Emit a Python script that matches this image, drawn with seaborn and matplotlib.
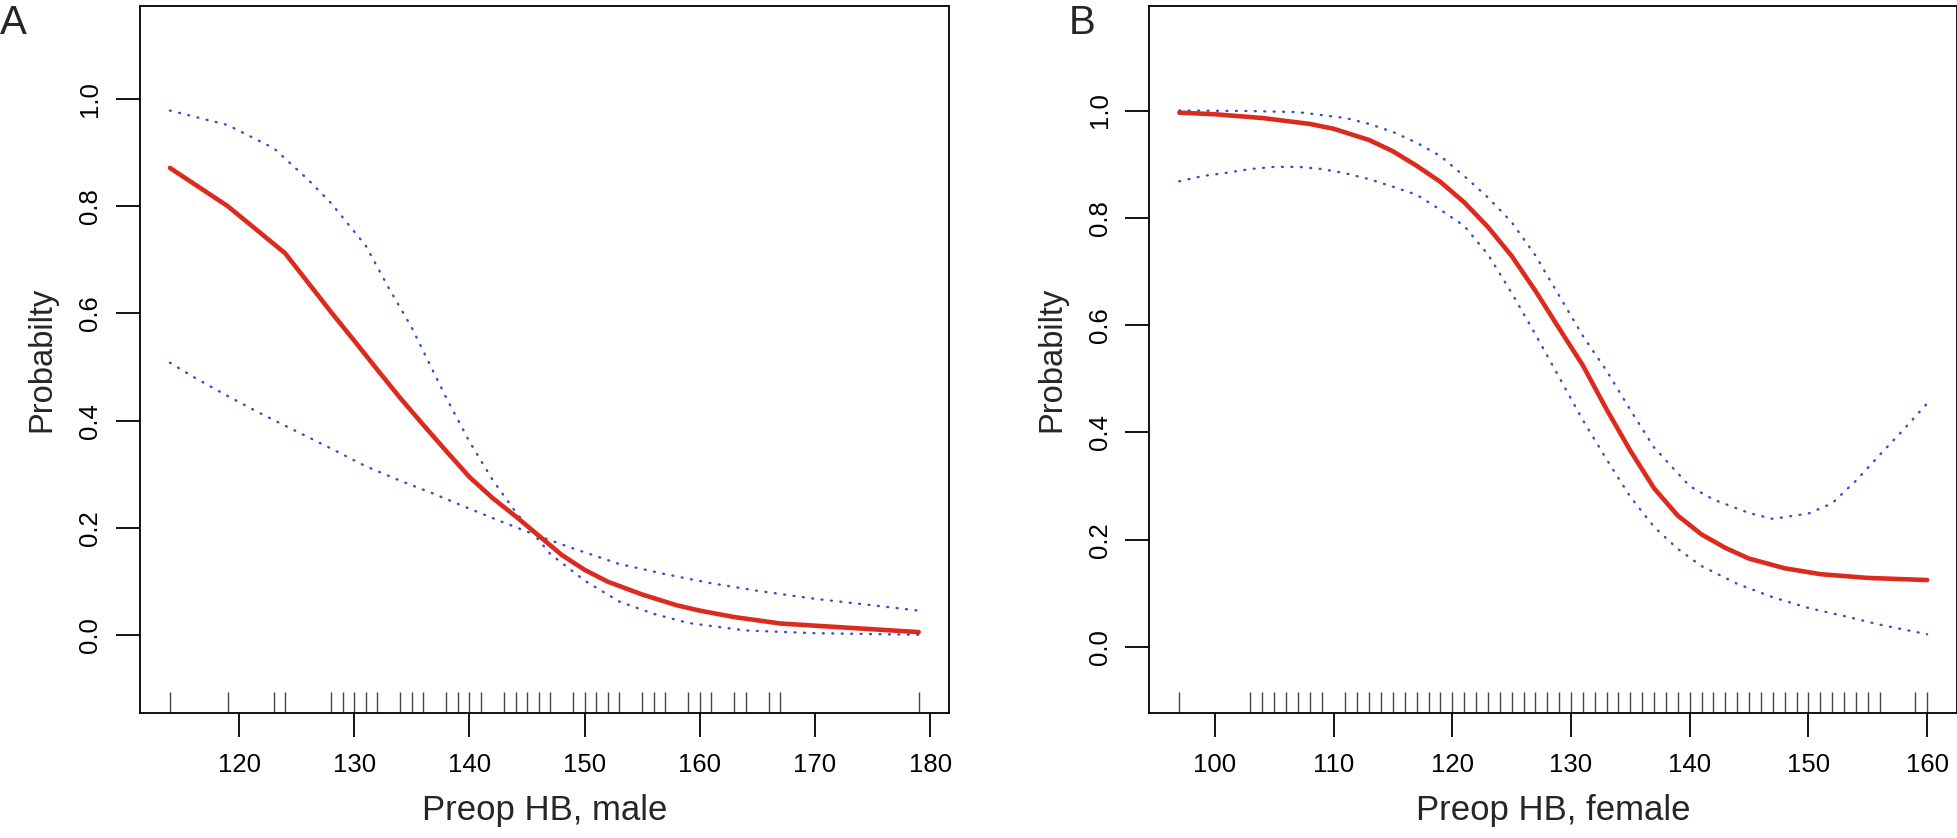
import matplotlib
matplotlib.use("Agg")
from matplotlib import pyplot as plt
import pandas as pd
import seaborn as sns

# panel A - male
male_rug = [114, 119, 123, 124, 128, 129, 130, 131, 132, 134, 135, 136, 138, 139, 140, 141,
            143, 144, 145, 146, 147, 149, 150, 151, 152, 153, 155, 156, 157, 159, 160, 161,
            163, 164, 166, 167, 179]
male_x = [114, 119, 124, 128, 130, 132, 134, 136, 138, 140, 142, 144, 146, 148, 150, 152,
          155, 158, 160, 163, 167, 179]
male_p = [0.871, 0.800, 0.712, 0.602, 0.549, 0.495, 0.442, 0.392, 0.343, 0.295, 0.256, 0.222,
          0.186, 0.150, 0.122, 0.100, 0.076, 0.056, 0.046, 0.034, 0.022, 0.006]
male_up_x = [114, 119, 123, 126, 128, 131, 133, 135, 138, 140, 142, 144, 147, 150, 153, 156,
             159, 164, 170, 179]
male_up = [0.978, 0.951, 0.908, 0.849, 0.805, 0.726, 0.647, 0.573, 0.442, 0.361, 0.290, 0.230,
           0.152, 0.102, 0.063, 0.040, 0.023, 0.009, 0.004, 0.001]
male_lo_x = [114, 116, 119, 122, 125, 128, 131, 134, 137, 140, 143, 146, 149, 153, 157, 161,
             165, 170, 175, 179]
male_lo = [0.508, 0.482, 0.446, 0.412, 0.380, 0.348, 0.315, 0.288, 0.263, 0.236, 0.210, 0.185,
           0.162, 0.133, 0.114, 0.097, 0.083, 0.068, 0.056, 0.046]

# panel B - female
female_rug = [97] + [v for v in range(103, 157) if v != 110] + [159, 160]
female_x = [97, 100, 104, 108, 110, 113, 115, 117, 119, 121, 123, 125, 127, 129, 131, 133,
            135, 137, 139, 141, 143, 145, 148, 151, 155, 160]
female_p = [0.996, 0.993, 0.986, 0.975, 0.966, 0.945, 0.924, 0.897, 0.867, 0.829, 0.783, 0.729,
            0.664, 0.594, 0.525, 0.443, 0.366, 0.296, 0.245, 0.210, 0.185, 0.165, 0.147, 0.136,
            0.129, 0.125]
female_up_x = [97, 103, 107, 111, 113, 115, 117, 119, 121, 123, 125, 127, 129, 131, 133, 135,
               137, 140, 142, 145, 147, 150, 152, 154, 156, 158, 160]
female_up = [1.0, 0.999, 0.997, 0.986, 0.975, 0.960, 0.940, 0.915, 0.878, 0.838, 0.792, 0.730,
             0.655, 0.580, 0.515, 0.442, 0.372, 0.300, 0.275, 0.250, 0.239, 0.249, 0.268, 0.310,
             0.358, 0.405, 0.454]
female_lo_x = [97, 99, 101, 103, 105, 107, 109, 111, 113, 115, 117, 119, 121, 123, 125, 127,
               129, 131, 133, 135, 137, 139, 141, 144, 147, 150, 153, 156, 160]
female_lo = [0.868, 0.878, 0.884, 0.891, 0.895, 0.895, 0.891, 0.883, 0.872, 0.858, 0.843, 0.815,
             0.785, 0.732, 0.660, 0.583, 0.503, 0.423, 0.350, 0.280, 0.224, 0.183, 0.151, 0.118,
             0.093, 0.073, 0.058, 0.042, 0.024]

sns.set_theme(style="white")
plt.rcParams["font.family"] = ["Liberation Sans", "DejaVu Sans"]

RED = "#dd2a1e"
BLUE = "#3450c4"

fig = plt.figure(figsize=(19.58, 8.38), dpi=100)
axA = fig.add_axes([0.0715, 0.149, 0.413, 0.844])
axB = fig.add_axes([0.587, 0.149, 0.4125, 0.844])

panels = [
    (axA, male_rug, male_x, male_p, male_up_x, male_up, male_lo_x, male_lo,
     "Preop HB, male", (111.4, 181.6), [120, 130, 140, 150, 160, 170, 180], (-0.145, 1.173), "A", 0.0),
    (axB, female_rug, female_x, female_p, female_up_x, female_up, female_lo_x, female_lo,
     "Preop HB, female", (94.48, 162.52), [100, 110, 120, 130, 140, 150, 160], (-0.123, 1.195), "B", 0.546),
]

for ax, rug, x, p, ux, up, lx, lo, xlab, xl, xt, yl, tag, tx in panels:
    sns.lineplot(x=ux, y=up, ax=ax, color=BLUE, lw=1.7, linestyle=(0, (0.4, 3.6)),
                 dash_capstyle="round", estimator=None)
    sns.lineplot(x=lx, y=lo, ax=ax, color=BLUE, lw=1.7, linestyle=(0, (0.4, 3.6)),
                 dash_capstyle="round", estimator=None)
    sns.lineplot(x=x, y=p, ax=ax, color=RED, lw=3.3, estimator=None)
    sns.rugplot(x=rug, ax=ax, height=0.03, color="#444444", lw=1.1)
    ax.set_xlim(*xl)
    ax.set_ylim(*yl)
    ax.set_xticks(xt)
    ax.set_yticks([0.0, 0.2, 0.4, 0.6, 0.8, 1.0])
    ax.set_yticklabels(["0.0", "0.2", "0.4", "0.6", "0.8", "1.0"], rotation=90, va="center")
    ax.tick_params(axis="both", direction="out", length=17, width=1.3, labelsize=18.5,
                   colors="black", bottom=True, left=True)
    ax.tick_params(axis="x", pad=12)
    ax.tick_params(axis="y", pad=10)
    for s in ax.spines.values():
        s.set_color("black")
        s.set_linewidth(1.3)
    ax.set_xlabel(xlab, fontsize=25, labelpad=12)
    ax.set_ylabel("Probabilty", fontsize=23.5, labelpad=15)
    fig.text(tx, 0.995, tag, fontsize=29, va="top", ha="left")

fig.savefig("out.png", dpi=100)
